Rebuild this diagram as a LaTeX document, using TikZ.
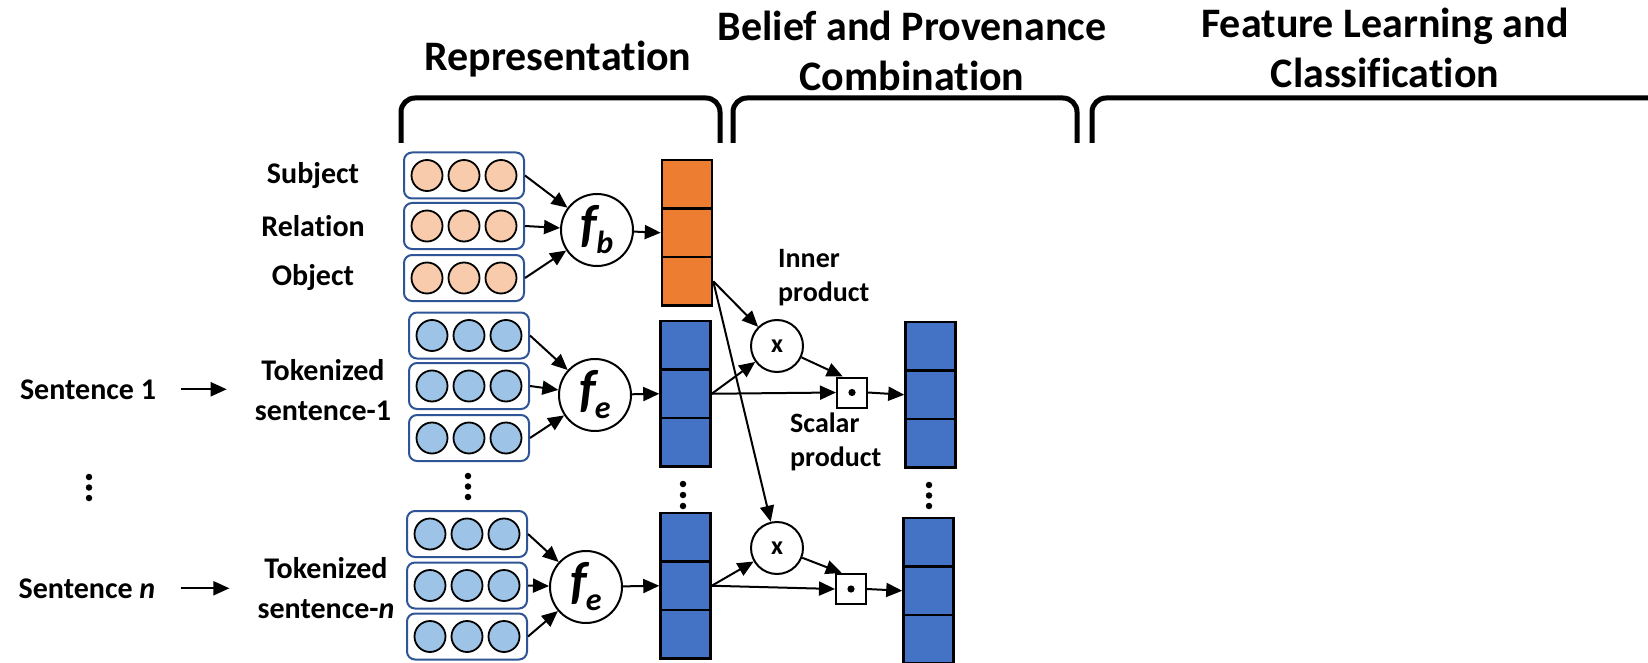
\documentclass[tikz,border=0pt]{standalone}
\usepackage{fontspec}
\setmainfont{Carlito}[Ligatures=NoCommon]
\usetikzlibrary{arrows.meta,calc}

\definecolor{vecorange}{HTML}{ED7D31}
\definecolor{vecblue}{HTML}{4472C4}
\definecolor{tokorange}{HTML}{F8CBAD}
\definecolor{tokblue}{HTML}{9DC3E6}
\definecolor{tokframe}{HTML}{2F5597}

\tikzset{
  lbl/.style={font=\fontsize{30}{40}\selectfont\bfseries, inner sep=0pt, align=center},
  head/.style={font=\fontsize{42}{50}\selectfont\bfseries, inner sep=0pt, align=center},
  note/.style={font=\fontsize{28}{34}\selectfont\bfseries, inner sep=0pt, align=left},
  tokbox/.style={draw=tokframe, line width=2pt, rounded corners=8pt, minimum width=120pt,
                 minimum height=46pt, inner sep=0pt, fill=white},
  tok/.style={draw=black, line width=1.8pt, circle, minimum size=31pt, inner sep=0pt},
  cell/.style={draw=black, line width=2.5pt, minimum width=50pt, minimum height=48.5pt, inner sep=0pt},
  fnode/.style={draw=black, line width=2pt, circle, fill=white, minimum size=72pt, inner sep=0pt},
  xnode/.style={draw=black, line width=2pt, circle, fill=white, minimum size=52pt, inner sep=0pt,
                font=\fontsize{26}{26}\selectfont\bfseries},
  dotbox/.style={draw=black, line width=2pt, fill=white, minimum size=30pt, inner sep=0pt},
  arr/.style={draw=black, line width=2pt, -{Triangle[length=16pt,width=14pt]}},
  brace/.style={draw=black, line width=5pt, rounded corners=14pt},
  vdot/.style={circle, fill=black, inner sep=0pt, minimum size=6.5pt},
}

% one token: a framed row of three embedding units
\newcommand\tokrow[4]{%
  \node[tokbox] (#1) at (#2,#3) {};
  \node[tok,fill=#4] (#1-a) at ($(#1)+(-37,0)$) {};
  \node[tok,fill=#4] (#1-b) at (#1) {};
  \node[tok,fill=#4] (#1-c) at ($(#1)+(37,0)$) {};
}
% encoder symbol f with a subscript
\newcommand\fsym[1]{{\fontsize{52}{52}\selectfont\bfseries\itshape f\kern-1pt\raisebox{-12pt}{\fontsize{32}{32}\selectfont #1}}}
% three-cell vector: name, x, top y, fill
\newcommand\vcol[4]{%
  \node[cell,fill=#4] (#1-1) at (#2,#3+24.25) {};
  \node[cell,fill=#4] (#1-2) at (#2,#3+72.75) {};
  \node[cell,fill=#4] (#1-3) at (#2,#3+121.25) {};
}

\begin{document}
\begin{tikzpicture}[x=1pt,y=-1pt]
\useasboundingbox (0,0) rectangle (1648,663);

% ---- stage headings and braces
\node[head, anchor=base] (hrep) at (558,71) {Representation};
\node[head] (hcomb) at (912,51) {Belief and Provenance\\Combination};
\node[head] (hclass) at (1385,48) {Feature Learning and\\Classification};
\draw[brace] (401,143) -- (401,98) -- (720,98) -- (720,143);
\draw[brace] (733,143) -- (733,98) -- (1077,98) -- (1077,143);
\draw[brace] (1092,143) -- (1092,98) -- (1720,98);

% ---- belief triple
\node[lbl, anchor=base] (lsub) at (313,184) {Subject};
\node[lbl, anchor=base] (lrel) at (313,236) {Relation};
\node[lbl, anchor=base] (lobj) at (313,285) {Object};
\tokrow{ts}{464}{175.5}{tokorange}
\tokrow{tr}{464}{226}{tokorange}
\tokrow{to}{464}{278}{tokorange}
\node[fnode] (fb) at (597,230) {\fsym{b}};
\vcol{bv}{687}{160}{vecorange}
\draw[arr] (ts.east) -- (fb);
\draw[arr] (tr.east) -- (fb);
\draw[arr] (to.east) -- (fb);
\draw[arr] (fb) -- (bv-2.west);

% ---- sentence 1
\node[lbl, anchor=base] (sent1) at (88,399) {Sentence 1};
\node[lbl] (tok1) at (323,390) {Tokenized\\sentence-1};
\draw[arr, shorten <=25pt, shorten >=28pt] (sent1.east) -- (sent1.east -| tok1.west);
\tokrow{ua}{469}{335.5}{tokblue}
\tokrow{ub}{469}{386}{tokblue}
\tokrow{uc}{469}{438}{tokblue}
\node[fnode] (fe1) at (595,395) {\fsym{e}};
\vcol{ev1}{685.5}{321}{vecblue}
\draw[arr] (ua.east) -- (fe1);
\draw[arr] (ub.east) -- (fe1);
\draw[arr] (uc.east) -- (fe1);
\draw[arr] (fe1) -- (ev1-2.west);

% ---- sentence n
\node[lbl, anchor=base] (sentn) at (87,598) {Sentence \textit{n}};
\node[lbl] (tokn) at (326,588) {Tokenized\\sentence-\textit{n}};
\draw[arr, shorten <=25pt, shorten >=28pt] (sentn.east) -- (sentn.east -| tokn.west);
\tokrow{va}{467}{534}{tokblue}
\tokrow{vb}{467}{585.5}{tokblue}
\tokrow{vc}{467}{636.5}{tokblue}
\node[fnode] (fe2) at (586,587) {\fsym{e}};
\vcol{ev2}{685.5}{513}{vecblue}
\draw[arr] (va.east) -- (fe2);
\draw[arr] (vb.east) -- (fe2);
\draw[arr] (vc.east) -- (fe2);
\draw[arr] (fe2) -- (ev2-2.west);

% ---- vertical ellipses
\foreach \y [count=\i] in {477,487.5,498} \node[vdot] (ld\i) at (89,\y) {};
\foreach \y [count=\i] in {476,486.5,497} \node[vdot] (td\i) at (468,\y) {};
\foreach \y [count=\i] in {484,495,506} \node[vdot] (cd\i) at (683,\y) {};
\foreach \y [count=\i] in {485,495.5,506} \node[vdot] (rd\i) at (929,\y) {};

% ---- combination of belief and provenance
\node[xnode] (x1) at (777,346) {x};
\node[xnode] (x2) at (777,548) {x};
\node[dotbox] (d1) at (852,392.5) {};
\node[dotbox] (d2) at (851,589) {};
\fill (d1) circle (3.6pt);
\fill (d2) circle (3.6pt);
\vcol{rv1}{930.5}{322}{vecblue}
\vcol{rv2}{928.5}{518}{vecblue}

\draw[arr] (bv-3.east) -- (x1);
\draw[arr] (bv-3.east) -- (x2);
\draw[arr] (ev1-2.east) -- (x1);
\draw[arr] (ev1-2.east) -- (d1.west);
\draw[arr] (x1) -- (d1.120);
\draw[arr] (d1.east) -- (rv1-2.west);
\draw[arr] (ev2-2.east) -- (x2);
\draw[arr] (ev2-2.east) -- (d2.west);
\draw[arr] (x2) -- (d2.120);
\draw[arr] (d2.east) -- (rv2-2.west);

\node[note, anchor=north west] (inner) at (778,249) {Inner\\product};
\node[note, anchor=north west] (scalar) at (790,413) {Scalar\\product};
\end{tikzpicture}
\end{document}
